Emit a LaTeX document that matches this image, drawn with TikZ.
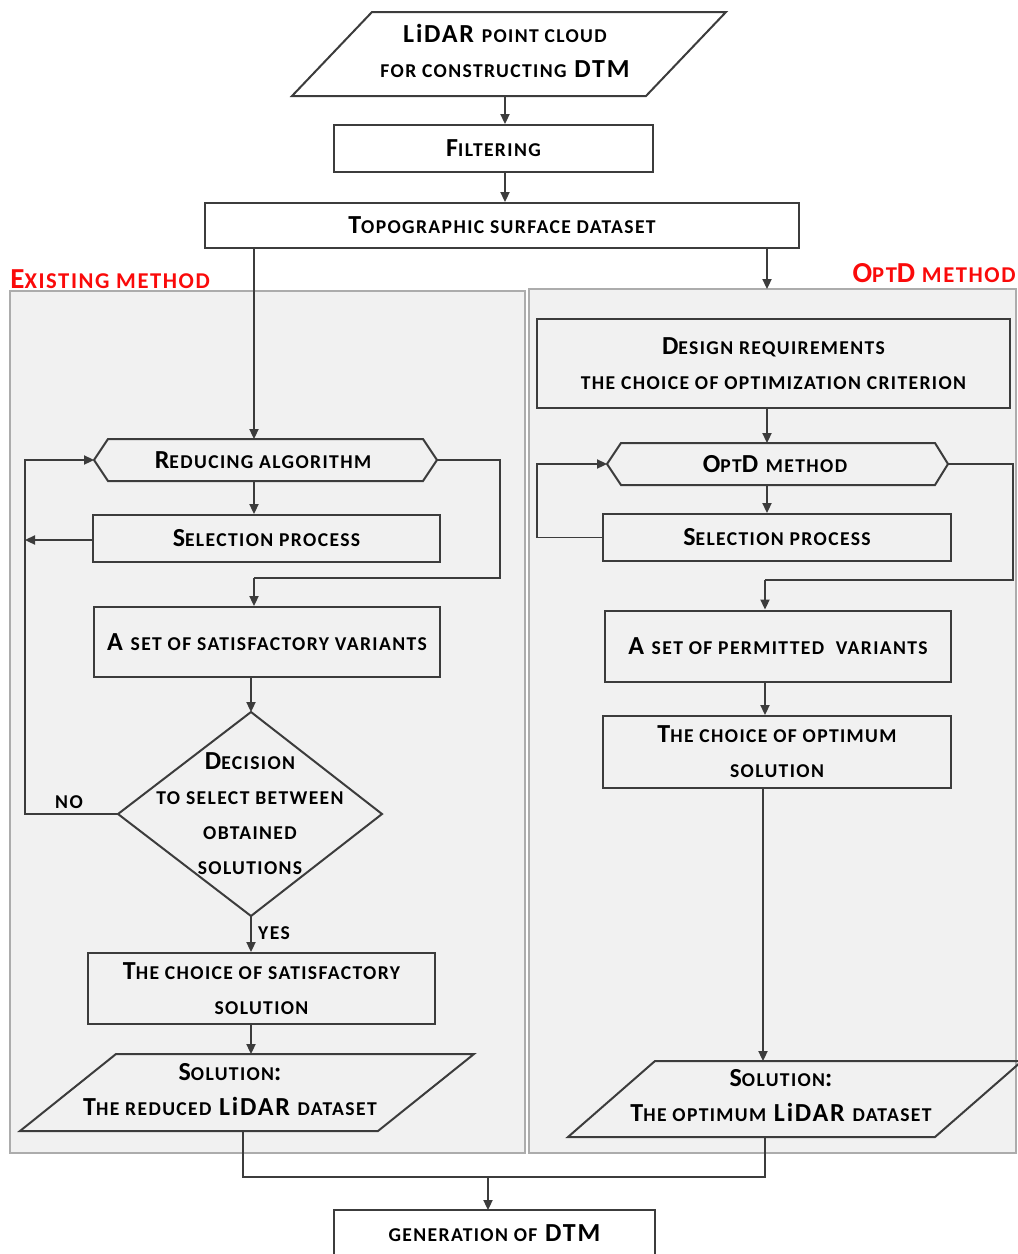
\documentclass[tikz,border=0pt]{standalone}
\usepackage{fontspec}
\setmainfont{Carlito}[LetterSpace=7]
\usepackage{tikz}
\usetikzlibrary{
	arrows.meta, shapes.geometric, positioning, calc
}
\definecolor{panelgray} {RGB}{241, 241, 241}
\definecolor{edgegray}  {RGB}{60,  60,  60}
\definecolor{labelred}  {RGB}{250, 10,  10}
\newcommand{\sm}[1]{{\fontsize{9.8}{11}\selectfont #1}}
\newcommand{\smr}[1]{{\fontsize{11.3}{13}\selectfont #1}}

\begin{document}
\begin{tikzpicture}[x=0.5pt,y=-0.5pt,
	font=\bfseries\fontsize{13}{17.5}\selectfont,
	box/.style={draw=edgegray, line width=1pt, inner sep=0pt, align=center},
	shp/.style={draw=edgegray, line width=1pt},
	txt/.style={inner sep=0pt, align=center},
	panel/.style={draw=gray!65, line width=1.3pt, fill=panelgray},
	link/.style={draw=edgegray, line width=0.75pt},
	arr/.style={link, -{Triangle[length=5pt,width=4.6pt]}},
	tag/.style={inner sep=0pt, text=labelred, font=\bfseries\fontsize{14.5}{16}\selectfont}
	]
	\useasboundingbox (0,0) rectangle (1018,1254);
	\clip (0,0) rectangle (1018,1254);
	% panels
	\draw[panel] (10,291) rectangle (525,1153);
	\draw[panel] (529,289) rectangle (1016,1153);
	\node[tag, anchor=west] (tagold) at (10,279) {E\smr{XISTING METHOD}};
	\node[tag, anchor=east] (tagnew) at (1016,273) {O\smr{PT}D\smr{\ METHOD}};
	% input
	\draw[shp, fill=white] (372,12)--(726,12)--(646,96)--(292,96)--cycle;
	\node[txt] (cloud) at (505,51) {LiDAR \sm{POINT CLOUD}\\ \sm{FOR CONSTRUCTING} DTM};
	\coordinate (cloudb) at (505,96);
	\node[box, fill=white, minimum width=159.5pt, minimum height=23.5pt] (filt) at (493.5,148.5) {F\sm{ILTERING}};
	\node[box, fill=white, minimum width=297pt, minimum height=22.5pt] (topo) at (502,225.5) {T\sm{OPOGRAPHIC SURFACE DATASET}};
	\draw[arr] (cloudb) -- (cloudb |- filt.north);
	\draw[arr] (cloudb |- filt.south) -- (cloudb |- topo.north);
	% existing method
	\draw[shp] (94,460)--(108,439)--(423,439)--(437,460)--(423,481)--(108,481)--cycle;
	\node[txt] (redalg) at (263,460) {R\sm{EDUCING ALGORITHM}};
	\coordinate (redalgw) at (94,460);
	\coordinate (redalge) at (437,460);
	\coordinate (redalgn) at (254,439);
	\coordinate (redalgs) at (254,481);
	\node[box, minimum width=173.5pt, minimum height=23.5pt] (sel1) at (266.5,538.5) {S\sm{ELECTION PROCESS}};
	\node[box, minimum width=173pt, minimum height=35pt] (set1) at (267,642) {A \sm{SET OF SATISFACTORY VARIANTS}};
	\draw[shp] (251,712)--(382,814)--(251,916)--(118,814)--cycle;
	\node[txt] (dec) at (250,814) {D\sm{ECISION}\\ \sm{TO SELECT BETWEEN}\\ \sm{OBTAINED}\\ \sm{SOLUTIONS}};
	\coordinate (decn) at (251,712);
	\coordinate (decs) at (251,916);
	\coordinate (decw) at (118,814);
	\node[box, minimum width=173.5pt, minimum height=35.5pt] (choice1) at (261.5,988.5) {T\sm{HE CHOICE OF SATISFACTORY}\\ \sm{SOLUTION}};
	\draw[shp] (116,1054)--(474,1054)--(378,1131)--(20,1131)--cycle;
	\node[txt] (sol1) at (230,1090) {S\sm{OLUTION}:\\ T\sm{HE REDUCED} LiDAR \sm{DATASET}};
	\coordinate (sol1n) at (251,1054);
	\coordinate (sol1s) at (243,1131);
	\draw[arr] (topo.south -| redalgn) -- (redalgn);
	\draw[arr] (redalgs) -- (redalgs |- sel1.north);
	\draw[link] (redalge) -- (500,460) -- (500,578) -- (254,578) coordinate (loopa);
	\draw[arr] (loopa) -- (loopa |- set1.north);
	\draw[arr] (set1.south -| decn) -- (decn);
	\draw[arr] (sel1.west |- 0,540) -- (25,540);
	\draw[arr] (decw) -- (25,814) -- (25,460) -- (redalgw);
	\node[txt, font=\bfseries\fontsize{9.8}{11}\selectfont] (no) at (69,802) {NO};
	\draw[arr] (decs) -- (decs |- choice1.north);
	\node[txt, font=\bfseries\fontsize{9.8}{11}\selectfont] (yes) at (274,933) {YES};
	\draw[arr] (choice1.south -| sol1n) -- (sol1n);
	% OptD method
	\node[box, minimum width=236.5pt, minimum height=44.5pt] (design) at (773.5,363.5) {D\sm{ESIGN REQUIREMENTS}\\ \sm{THE CHOICE OF OPTIMIZATION CRITERION}};
	\draw[shp] (607,464)--(621,443)--(935,443)--(948,464)--(935,485)--(621,485)--cycle;
	\node[txt] (optd) at (775,464) {O\sm{PT}D \sm{METHOD}};
	\coordinate (optdw) at (607,464);
	\coordinate (optde) at (948,464);
	\coordinate (optdn) at (767,443);
	\coordinate (optds) at (767,485);
	\node[box, minimum width=174pt, minimum height=23.5pt] (sel2) at (777,537.5) {S\sm{ELECTION PROCESS}};
	\node[box, minimum width=173pt, minimum height=35.5pt] (set2) at (778,646) {A \sm{SET OF PERMITTED\ \ VARIANTS}};
	\node[box, minimum width=174pt, minimum height=36pt] (choice2) at (777,752) {T\sm{HE CHOICE OF OPTIMUM}\\ \sm{SOLUTION}};
	\draw[shp] (655,1061)--(1022,1061)--(935,1137)--(568,1137)--cycle;
	\node[txt] (sol2) at (781,1096) {S\sm{OLUTION}:\\ T\sm{HE OPTIMUM} LiDAR \sm{DATASET}};
	\coordinate (sol2n) at (763,1061);
	\coordinate (sol2s) at (765,1137);
	\draw[arr] (767,248) -- (767,289);
	\draw[arr] (design.south -| optdn) -- (optdn);
	\draw[arr] (optds) -- (optds |- sel2.north);
	\draw[link] (optde) -- (1013,464) -- (1013,580) -- (765,580) coordinate (loopb);
	\draw[arr] (loopb) -- (loopb |- set2.north);
	\draw[arr] (sel2.west) -- (537,537.5) -- (537,464) -- (optdw);
	\draw[arr] (set2.south -| loopb) -- (loopb |- choice2.north);
	\draw[arr] (choice2.south -| sol2n) -- (sol2n);
	% output
	\node[box, fill=white, minimum width=160.5pt, minimum height=23.5pt] (gen) at (494.5,1233.5) {\sm{GENERATION OF} DTM};
	\draw[link] (sol1s) -- (243,1177) -- (765,1177) -- (sol2s);
	\draw[arr] (488,1177) -- (488,1210);
\end{tikzpicture}
\end{document}
